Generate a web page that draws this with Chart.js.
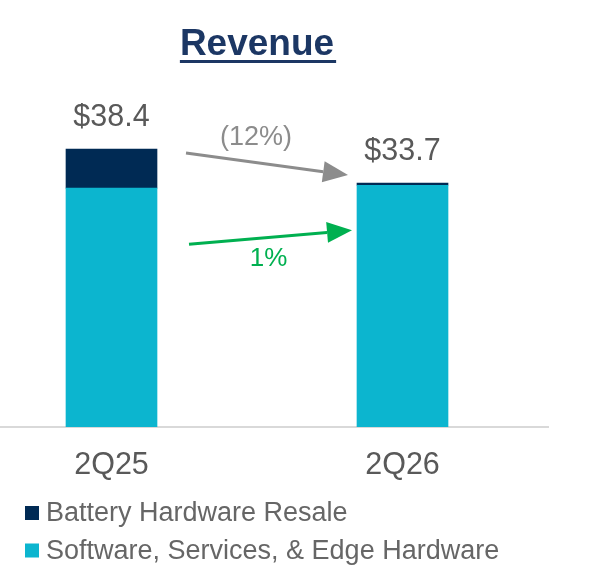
<!DOCTYPE html>
<html>
<head>
<meta charset="utf-8">
<script src="https://cdn.jsdelivr.net/npm/chart.js@4.4.1/dist/chart.umd.min.js"></script>
<style>
  html, body { margin: 0; padding: 0; background: #fff; overflow: hidden; }
  #wrap { position: absolute; left: -34px; top: 0; width: 633px; height: 583px; }
</style>
</head>
<body>
<div id="wrap"><canvas id="revenueChart" width="633" height="583"></canvas></div>
<script>
// valores (US$ milhões)
const periodos = ['2Q25', '2Q26'];
const software = [33.0, 33.4];
const bateria = [5.4, 0.3];
const totais = [38.4, 33.7];

const FONTE = '"Liberation Sans", Arial, sans-serif';

function seta(ctx, x0, y0, x1, y1, cor) {
  const ang = Math.atan2(y1 - y0, x1 - x0);
  const comp = 25, meia = 10.5;
  const bx = x1 - comp * Math.cos(ang), by = y1 - comp * Math.sin(ang);
  ctx.strokeStyle = cor;
  ctx.fillStyle = cor;
  ctx.lineWidth = 3;
  ctx.beginPath();
  ctx.moveTo(x0, y0);
  ctx.lineTo(bx, by);
  ctx.stroke();
  ctx.beginPath();
  ctx.moveTo(x1, y1);
  ctx.lineTo(bx + meia * Math.sin(ang), by - meia * Math.cos(ang));
  ctx.lineTo(bx - meia * Math.sin(ang), by + meia * Math.cos(ang));
  ctx.closePath();
  ctx.fill();
}

const extras = {
  id: 'extras',
  afterDraw(chart) {
    const { ctx, chartArea } = chart;
    const baixo = chart.getDatasetMeta(0).data;
    const topo = chart.getDatasetMeta(1).data;
    ctx.save();

    // título sublinhado
    const cx = (chartArea.left + chartArea.right) / 2;
    ctx.font = 'bold 37px ' + FONTE;
    ctx.fillStyle = '#1c3764';
    ctx.textAlign = 'center';
    ctx.textBaseline = 'alphabetic';
    ctx.fillText('Revenue', cx, 55);
    const w = ctx.measureText('Revenue').width;
    ctx.fillRect(cx - w / 2, 60, w + 2, 3);

    // totais acima das barras
    ctx.font = '30.5px ' + FONTE;
    ctx.fillStyle = '#595959';
    topo.forEach((b, i) => {
      ctx.fillText('$' + totais[i].toFixed(1), b.x, b.y - 23.5);
    });

    const dir0 = topo[0].x + topo[0].width / 2;
    const esq1 = topo[1].x - topo[1].width / 2;

    // variação total
    const g0 = [dir0 + 29, topo[0].y + 4], g1 = [esq1 - 9, topo[1].y - 8];
    seta(ctx, g0[0], g0[1], g1[0], g1[1], '#8c8c8c');
    const varTotal = Math.round((totais[1] / totais[0] - 1) * 100);
    ctx.font = '27px ' + FONTE;
    ctx.fillStyle = '#8c8c8c';
    ctx.textBaseline = 'middle';
    const txtTotal = varTotal < 0 ? '(' + Math.abs(varTotal) + '%)' : varTotal + '%';
    ctx.fillText(txtTotal, (g0[0] + g1[0]) / 2 - 11, (g0[1] + g1[1]) / 2 - 27);

    // variação software
    const v0 = [dir0 + 32, baixo[0].y + 56], v1 = [esq1 - 5, baixo[1].y + 45];
    seta(ctx, v0[0], v0[1], v1[0], v1[1], '#00b050');
    const varSoft = Math.round((software[1] / software[0] - 1) * 100);
    ctx.font = '26px ' + FONTE;
    ctx.fillStyle = '#00b050';
    ctx.fillText(varSoft + '%', (v0[0] + v1[0]) / 2 - 2, (v0[1] + v1[1]) / 2 + 22);

    // legenda
    ctx.textAlign = 'left';
    ctx.textBaseline = 'alphabetic';
    ctx.font = '27px ' + FONTE;
    const itens = chart.data.datasets.slice().reverse();
    itens.forEach((ds, i) => {
      const yb = 521 + i * 37.5;
      ctx.fillStyle = ds.backgroundColor;
      ctx.fillRect(34 + 25, yb - 15, 14, 14);
      ctx.fillStyle = '#666666';
      ctx.fillText(ds.label, 34 + 46, yb);
    });
    ctx.restore();
  }
};

new Chart(document.getElementById('revenueChart'), {
  type: 'bar',
  data: {
    labels: periodos,
    datasets: [
      { label: 'Software, Services, & Edge Hardware', data: software, backgroundColor: '#0cb5cf' },
      { label: 'Battery Hardware Resale', data: bateria, backgroundColor: '#002a54' }
    ]
  },
  options: {
    responsive: false,
    animation: false,
    layout: { padding: { top: 0, right: 51, left: 0, bottom: 0 } },
    datasets: { bar: { barThickness: 91 } },
    plugins: {
      legend: { display: false },
      title: { display: false },
      tooltip: { enabled: false }
    },
    scales: {
      x: {
        stacked: true,
        grid: { display: false, drawTicks: false },
        border: { display: true, color: '#d9d9d9', width: 2 },
        ticks: { color: '#595959', font: { family: FONTE, size: 30.5 }, padding: 20 },
        afterFit: s => { s.height = 156; }
      },
      y: {
        stacked: true,
        display: false,
        min: 0,
        max: 59
      }
    }
  },
  plugins: [extras]
});
</script>
</body>
</html>
